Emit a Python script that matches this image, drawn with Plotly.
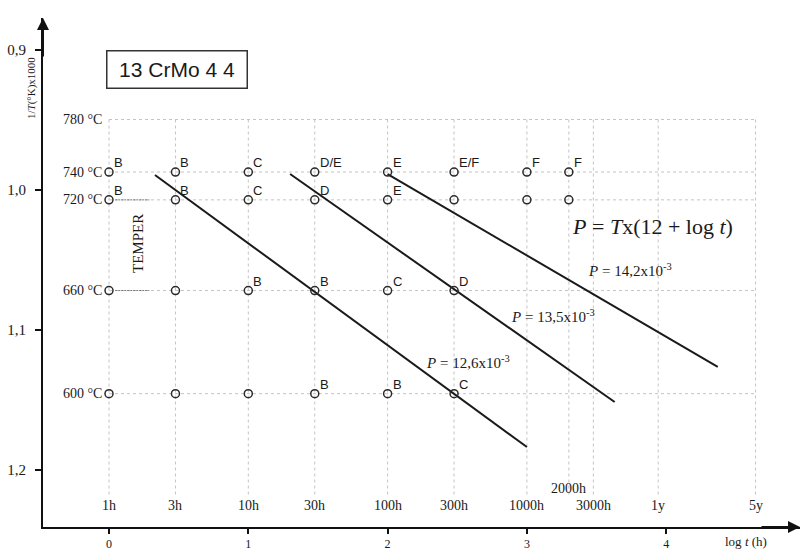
import math
import plotly.graph_objects as go

# ---- data -------------------------------------------------------------
temps_c = [780, 740, 720, 660, 600]                  # tempering temperatures
time_labels = ["1h", "3h", "10h", "30h", "100h", "300h", "1000h", "3000h", "1y", "5y"]
time_hours = [1, 3, 10, 30, 100, 300, 1000, 3000, 8760, 43800]
grid_hours = [1, 3, 10, 30, 100, 300, 1000, 2000, 3000, 8760, 43800]

# test points: hours and structure letter per temperature
pts_740_h = [1, 3, 10, 30, 100, 300, 1000, 2000]
pts_740_lbl = ["B", "B", "C", "D/E", "E", "E/F", "F", "F"]
pts_720_h = [1, 3, 10, 30, 100, 300, 1000, 2000]
pts_720_lbl = ["B", "B", "C", "D", "E", "", "", ""]
pts_660_h = [1, 3, 10, 30, 100, 300]
pts_660_lbl = ["", "", "B", "B", "C", "D"]
pts_600_h = [1, 3, 10, 30, 100, 300]
pts_600_lbl = ["", "", "", "B", "B", "C"]

# iso-parameter lines (log t, 1000/T) end points
p_values = ["12,6", "13,5", "14,2"]
line_126_logt = [0.33, 3.00]
line_126_inv = [0.9893, 1.1836]
line_135_logt = [1.30, 3.63]
line_135_inv = [0.9886, 1.1514]
line_142_logt = [2.00, 4.37]
line_142_inv = [0.9886, 1.1264]

y_ticks = [0.9, 1.0, 1.1, 1.2]
y_ticktext = ["0,9", "1,0", "1,1", "1,2"]
x_ticks = [0, 1, 2, 3, 4]

# ---- helpers ------------------------------------------------------------
W, H = 801, 551
L_M, R_M, T_M, B_M = 43, 1, 18, 24
PW, PH = W - L_M - R_M, H - T_M - B_M


def inv_t(tc):
    return 1000.0 / (tc + 273.0)


def px(x, y):
    """pixel position -> paper coordinates"""
    return (x - L_M) / PW, 1 - (y - T_M) / PH


SERIF = "Liberation Serif"
SANS = "Liberation Sans"
INK = "#1a1a1a"

fig = go.Figure()

# ---- grid -------------------------------------------------------------
shapes = []
y_top = inv_t(780)
y_bot = 1.2193
for h in grid_hours:
    lx = math.log10(h)
    shapes.append(dict(type="line", xref="x", yref="y", x0=lx, x1=lx, y0=y_top, y1=y_bot,
                       line=dict(color="#c4c4c4", width=1, dash="3px,3px"), layer="below"))
for tc in temps_c:
    v = inv_t(tc)
    shapes.append(dict(type="line", xref="x", yref="y", x0=0, x1=math.log10(43800), y0=v, y1=v,
                       line=dict(color="#c4c4c4", width=1, dash="3px,3px"), layer="below"))
# tempering marks
for tc in [720, 660]:
    v = inv_t(tc)
    shapes.append(dict(type="line", xref="x", yref="y", x0=0.045, x1=0.29, y0=v, y1=v,
                       line=dict(color="#777", width=1, dash="2px,1px"), layer="below"))

# ---- P lines ------------------------------------------------------------
for lx, ly in [(line_126_logt, line_126_inv), (line_135_logt, line_135_inv),
               (line_142_logt, line_142_inv)]:
    fig.add_trace(go.Scatter(x=lx, y=ly, mode="lines", line=dict(color=INK, width=2),
                             hoverinfo="skip", showlegend=False))

# ---- test points --------------------------------------------------------
annotations = []
for tc, hs, lbls in [(740, pts_740_h, pts_740_lbl), (720, pts_720_h, pts_720_lbl),
                     (660, pts_660_h, pts_660_lbl), (600, pts_600_h, pts_600_lbl)]:
    xs = [math.log10(h) for h in hs]
    ys = [inv_t(tc)] * len(hs)
    fig.add_trace(go.Scatter(x=xs, y=ys, mode="markers",
                             marker=dict(symbol="circle-open", size=8, color="#2a2a2a",
                                         line=dict(width=1.5, color="#2a2a2a")),
                             hoverinfo="skip", showlegend=False))
    for x, y, t in zip(xs, ys, lbls):
        if t:
            annotations.append(dict(x=x, y=y, xref="x", yref="y", text=t, showarrow=False,
                                    xanchor="left", yanchor="bottom", xshift=3, yshift=0,
                                    font=dict(family=SANS, size=13, color=INK)))


def note(cx, cy, text, size, family=SERIF, angle=0, **kw):
    x, y = px(cx, cy)
    d = dict(x=x, y=y, xref="paper", yref="paper", text=text, showarrow=False,
             xanchor="center", yanchor="middle", textangle=angle,
             font=dict(family=family, size=size, color=INK))
    d.update(kw)
    annotations.append(d)


# temperature labels
for tc in temps_c:
    annotations.append(dict(x=px(104, 0)[0], y=inv_t(tc), xref="paper", yref="y",
                            text=f"{tc} °C", showarrow=False, xanchor="right", yanchor="middle",
                            font=dict(family=SERIF, size=14, color=INK)))

# time labels
for lbl, h in zip(time_labels, time_hours):
    annotations.append(dict(x=math.log10(h), y=px(0, 505)[1], xref="x", yref="paper",
                            text=lbl, showarrow=False, xanchor="center", yanchor="middle",
                            font=dict(family=SERIF, size=14, color=INK)))
annotations.append(dict(x=math.log10(2000), y=px(0, 488)[1], xref="x", yref="paper",
                        text="2000h", showarrow=False, xanchor="center", yanchor="middle",
                        font=dict(family=SERIF, size=14, color=INK)))

# P labels
for val, (cx, cy) in zip(p_values, [(468, 362), (553, 316), (630, 270)]):
    note(cx, cy, f"<i>P</i> = {val}x10<sup>-3</sup>", 15)

# formula
note(652, 226, "<i>P</i> = <i>T</i>x(12 + log <i>t</i>)", 22)

# TEMPER
note(138, 244, "TEMPER", 15, angle=-90)

# title box
note(177, 69, "13 CrMo 4 4", 21, family=SANS, width=131, height=28, borderpad=4,
     bordercolor="#333", borderwidth=1.5, bgcolor="white")

# axis titles
note(32, 88, "1/<i>T</i>(°K)x1000", 11, angle=-90)
note(746, 541, "log <i>t</i> (h)", 13)

# axis arrows
annotations.append(dict(x=0, y=1, xref="paper", yref="paper", ax=0, ay=40, text="",
                        showarrow=True, arrowhead=2, arrowsize=1.2, arrowwidth=2,
                        arrowcolor="#111"))
annotations.append(dict(x=1, y=0, xref="paper", yref="paper", ax=-40, ay=0, text="",
                        showarrow=True, arrowhead=2, arrowsize=1.2, arrowwidth=2,
                        arrowcolor="#111"))

fig.update_layout(
    width=W, height=H,
    margin=dict(l=L_M, r=R_M, t=T_M, b=B_M, autoexpand=False),
    paper_bgcolor="white", plot_bgcolor="white",
    shapes=shapes, annotations=annotations,
    xaxis=dict(range=[-66 / 139.3, 691 / 139.3], tickvals=x_ticks, automargin=False,
               ticktext=[str(v) for v in x_ticks], showgrid=False, zeroline=False,
               showline=True, linecolor="#111", linewidth=2, ticks="outside", ticklen=5,
               tickwidth=2, tickcolor="#111",
               tickfont=dict(family=SERIF, size=12, color=INK)),
    yaxis=dict(range=[0.9 + 477 / 1400, 0.9 - 32 / 1400], tickvals=y_ticks, automargin=False,
               ticktext=y_ticktext, showgrid=False, zeroline=False,
               showline=True, linecolor="#111", linewidth=2, ticks="outside", ticklen=6,
               tickwidth=2, tickcolor="#111", ticklabelstandoff=6,
               tickfont=dict(family=SERIF, size=15, color=INK)),
)

fig.write_html("out.html")
